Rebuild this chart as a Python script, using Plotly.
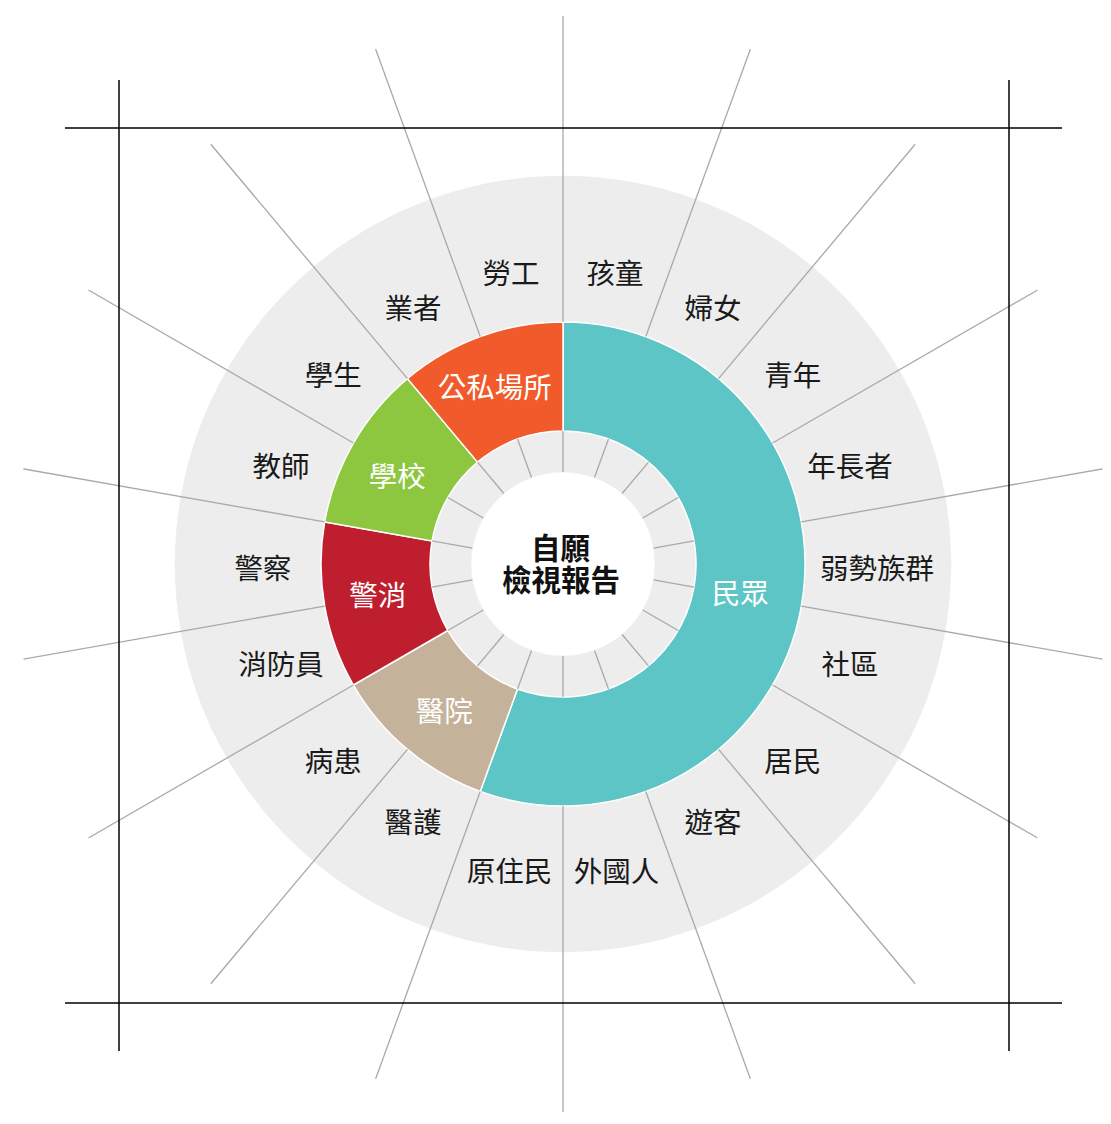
import math
import plotly.graph_objects as go

# ---------------- data ----------------
groups = ["民眾", "醫院", "警消", "學校", "公私場所"]
group_colors = ["#5EC5C6", "#C4B39A", "#BE1E2D", "#8DC63F", "#F15A2B"]

subgroups = ["孩童", "婦女", "青年", "年長者", "弱勢族群", "社區", "居民", "遊客", "外國人",
             "原住民", "醫護", "病患", "消防員", "警察", "教師", "學生", "業者", "勞工"]
subgroup_parent = ["民眾", "民眾", "民眾", "民眾", "民眾", "民眾", "民眾", "民眾", "民眾",
                   "民眾", "醫院", "醫院", "警消", "警消", "學校", "學校", "公私場所", "公私場所"]
center_title = ["自願", "檢視報告"]

# ---------------- geometry / style ----------------
W, H = 1111, 1124
CX, CY = 563, 564          # centre of the wheel (px)
R_AX = 548                 # radius of polar subplot (px)
R_HOLE, R_INNER, R_MID, R_OUTER, R_SPOKE = 92, 133, 242, 388, 560
R_LABEL, R_GLABEL = 300, 188
label_r_override = {"弱勢族群": 314, "外國人": 308, "原住民": 308}
glabel_r_override = {"民眾": 180}
LABEL_DY, GLABEL_DY = 8, 2   # screen-space downward nudge of text anchors (px)
# extra per-label screen offsets (dx right, dy down) in px
label_shift = {"年長者": (5, 0), "社區": (5, -7), "消防員": (0, -7),
               "遊客": (0, -6), "醫護": (0, -6)}
glabel_shift = {"學校": (-3, 8), "醫院": (2, 5), "公私場所": (-4, 2)}
FONT = "Noto Sans CJK TC"
RING_GRAY = "#EDEDED"
SPOKE = "#A9A9A9"


def nudge(r, theta, dx, dy):
    """move a polar point dx px right / dy px down on screen (theta clockwise from top)"""
    t = math.radians(theta)
    x = r * math.sin(t) + dx
    y = r * math.cos(t) - dy
    return math.hypot(x, y), math.degrees(math.atan2(x, y)) % 360


n = len(subgroups)
step = 360.0 / n
sub_theta = [step * (i + 0.5) for i in range(n)]
boundaries = [step * i for i in range(n)]

counts = [subgroup_parent.count(g) for g in groups]
g_width, g_theta = [], []
start = 0.0
for c in counts:
    g_width.append(c * step)
    g_theta.append(start + c * step / 2)
    start += c * step

fig = go.Figure()

# outer light ring
fig.add_trace(go.Barpolar(
    theta=sub_theta, width=[step] * n, base=[R_MID] * n, r=[R_OUTER - R_MID] * n,
    marker=dict(color=RING_GRAY, line=dict(color=RING_GRAY, width=0.5)),
    hoverinfo="skip"))
# inner light ring
fig.add_trace(go.Barpolar(
    theta=sub_theta, width=[step] * n, base=[R_HOLE] * n, r=[R_INNER - R_HOLE] * n,
    marker=dict(color=RING_GRAY, line=dict(color=RING_GRAY, width=0.5)),
    hoverinfo="skip"))
# coloured group ring
fig.add_trace(go.Barpolar(
    theta=g_theta, width=g_width, base=[R_INNER] * len(groups),
    r=[R_MID - R_INNER] * len(groups),
    marker=dict(color=group_colors, line=dict(color="white", width=1.5)),
    hoverinfo="skip"))

# spokes
sr, st = [], []
for b in boundaries:
    sr += [R_HOLE, R_INNER, None, R_MID, R_SPOKE, None]
    st += [b, b, None, b, b, None]
fig.add_trace(go.Scatterpolar(
    r=sr, theta=st, mode="lines", line=dict(color=SPOKE, width=1.3),
    hoverinfo="skip", connectgaps=False))

# subgroup labels
lab = []
for s, t in zip(subgroups, sub_theta):
    dx, dy = label_shift.get(s, (0, 0))
    lab.append(nudge(label_r_override.get(s, R_LABEL), t, dx, LABEL_DY + dy))
fig.add_trace(go.Scatterpolar(
    r=[p[0] for p in lab], theta=[p[1] for p in lab],
    mode="text", text=subgroups,
    textfont=dict(family=FONT, size=28.5, color="#1A1A1A"),
    hoverinfo="skip"))

# group labels
glab = []
for g, t in zip(groups, g_theta):
    dx, dy = glabel_shift.get(g, (0, 0))
    glab.append(nudge(glabel_r_override.get(g, R_GLABEL), t, dx, GLABEL_DY + dy))
fig.add_trace(go.Scatterpolar(
    r=[p[0] for p in glab], theta=[p[1] for p in glab], mode="text", text=groups,
    textfont=dict(family=FONT, size=28.5, color="white"),
    hoverinfo="skip"))

# centre title
for txt, py in zip(center_title, [546, 578]):
    fig.add_annotation(
        x=561 / W, y=1 - py / H, xref="paper", yref="paper",
        text="<b>%s</b>" % txt, showarrow=False, xanchor="center", yanchor="middle",
        font=dict(family=FONT, size=29.5, color="#111111"))

# crop-mark style frame
shapes = []
for py in [128, 1003]:
    shapes.append(dict(type="line", xref="paper", yref="paper",
                       x0=65 / W, x1=1062 / W, y0=1 - py / H, y1=1 - py / H,
                       line=dict(color="black", width=1.5)))
for px in [119, 1009]:
    shapes.append(dict(type="line", xref="paper", yref="paper",
                       x0=px / W, x1=px / W, y0=1 - 80 / H, y1=1 - 1051 / H,
                       line=dict(color="black", width=1.5)))

fig.update_layout(
    width=W, height=H, margin=dict(l=0, r=0, t=0, b=0),
    paper_bgcolor="white", plot_bgcolor="white", showlegend=False,
    shapes=shapes,
    polar=dict(
        domain=dict(x=[(CX - R_AX) / W, (CX + R_AX) / W],
                    y=[1 - (CY + R_AX) / H, 1 - (CY - R_AX) / H]),
        bgcolor="rgba(0,0,0,0)", barmode="overlay", hole=0,
        radialaxis=dict(visible=False, range=[0, R_AX]),
        angularaxis=dict(visible=False, rotation=90, direction="clockwise"),
    ),
)

fig.write_html("out.html", config={"displayModeBar": False},
               post_script="document.body.style.margin='0';document.body.style.overflow='hidden';")
